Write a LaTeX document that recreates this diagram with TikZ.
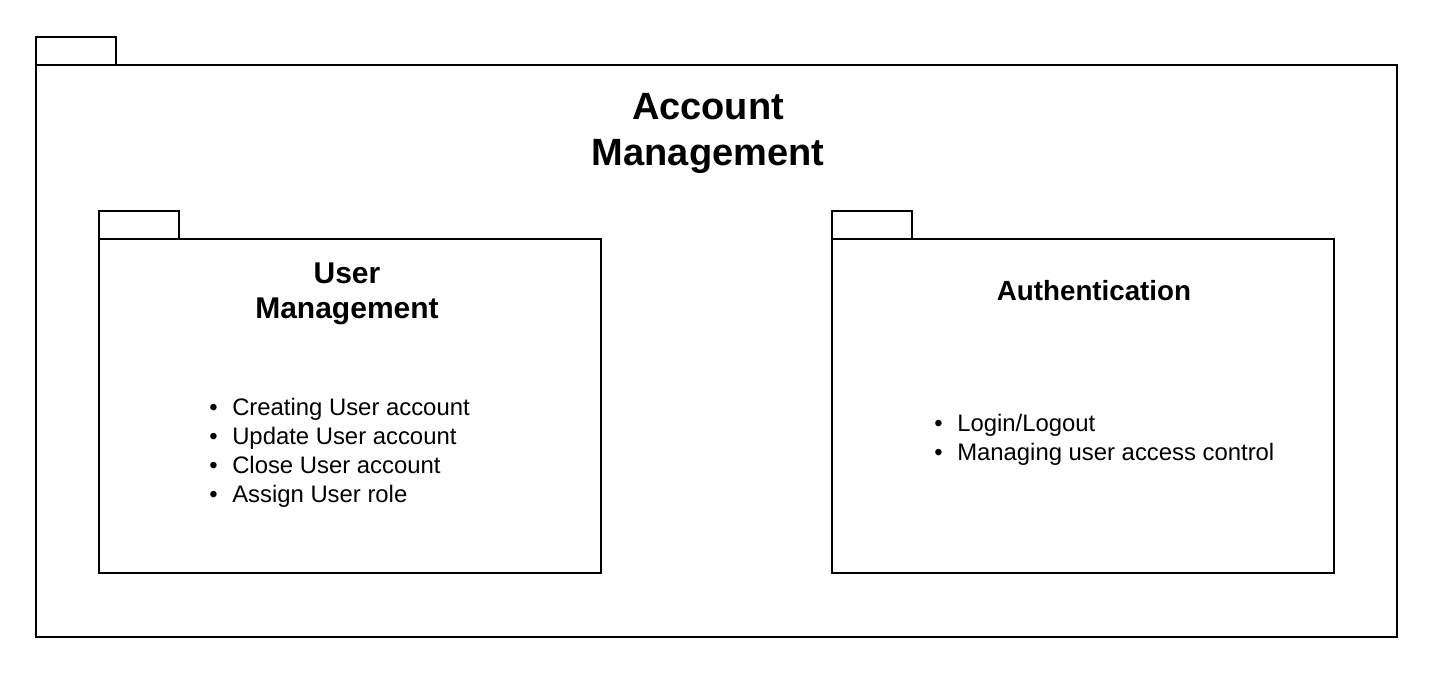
\documentclass[tikz,border=0pt]{standalone}
\usepackage{fontspec}
\setmainfont{Liberation Sans}
\begin{document}
\begin{tikzpicture}[x=0.75pt,y=-0.75pt,
  pkg/.style={draw=black,line width=1.5pt,fill=white},
  bigtitle/.style={font=\fontsize{28.5}{35.25}\selectfont\bfseries,align=center,inner sep=0pt},
  subtitle/.style={font=\fontsize{22.5}{26.25}\selectfont\bfseries,align=center,inner sep=0pt},
  authtitle/.style={font=\fontsize{20.8}{25}\selectfont\bfseries,align=center,inner sep=0pt},
  bullets/.style={font=\fontsize{17.9}{21.75}\selectfont,align=left,inner sep=0pt}]
\newcommand{\bitem}{\makebox[17.25pt][l]{\textbullet}}
\useasboundingbox[fill=white] (0,0) rectangle (1446,674);
% outer package
\draw[pkg] (36,37) rectangle (116,65);
\draw[pkg] (36,65) rectangle (1397,637);
\node[bigtitle,anchor=base] (acct) at (708,166) {Account\\Management};
% user management package
\draw[pkg] (99,211) rectangle (179,239);
\draw[pkg] (99,239) rectangle (601,573);
\node[subtitle,anchor=base] (um) at (347,318) {User\\Management};
\node[bullets,anchor=base west] (umlist) at (209,502) {\bitem Creating User account\\\bitem Update User account\\\bitem Close User account\\\bitem Assign User role};
% authentication package
\draw[pkg] (832,211) rectangle (912,239);
\draw[pkg] (832,239) rectangle (1334,573);
\node[authtitle,anchor=base] (auth) at (1094,300) {Authentication};
\node[bullets,anchor=base west] (authlist) at (934,460.5) {\bitem Login/Logout\\\bitem Managing user access control};
\end{tikzpicture}
\end{document}
